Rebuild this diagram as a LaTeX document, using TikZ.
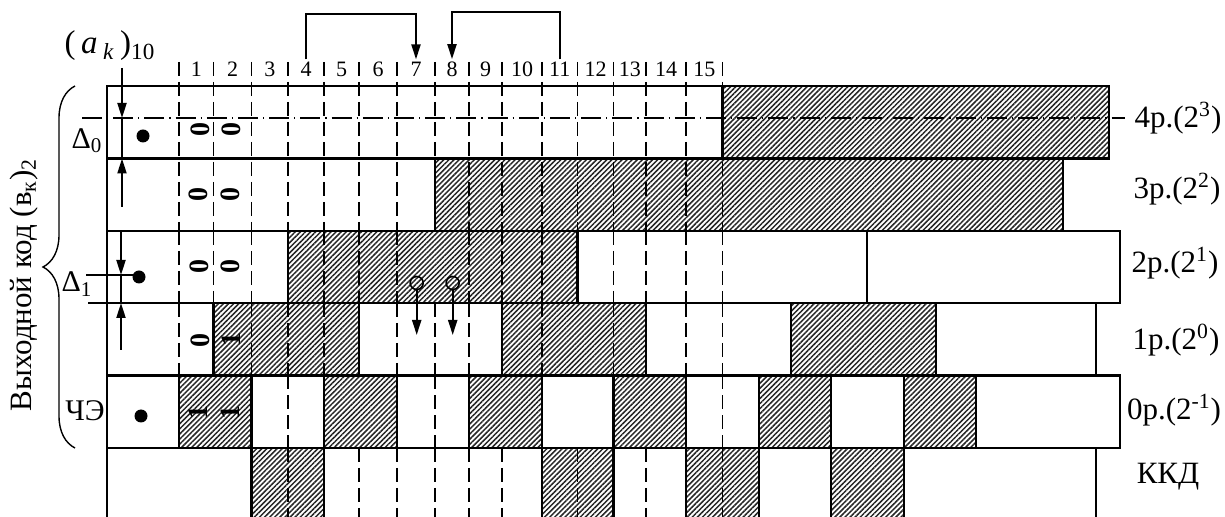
\documentclass[tikz,border=0pt]{standalone}
\usepackage{fontspec}
\setmainfont{Liberation Serif}
\usetikzlibrary{arrows.meta,patterns.meta,decorations.pathreplacing}

\tikzset{
  razm/.style={line width=1.1pt},
  shtrih/.style={line width=0.9pt, dash pattern=on 7pt off 3pt},
  shtrihpunkt/.style={line width=0.8pt, dash pattern=on 10pt off 2.5pt on 0.6pt off 2.5pt},
  shtrihovka/.style={pattern={Lines[angle=45,distance=1.8pt,line width=0.75pt]}, pattern color=black!85},
  strelka/.style={line width=1pt, -{Triangle[length=7.5pt,width=4.5pt]}},
  nomer/.style={font=\fontsize{11}{13}\selectfont, inner sep=1pt},
  razryad/.style={font=\fontsize{15.5}{18}\selectfont, inner sep=1pt},
  metka/.style={font=\fontsize{15}{17}\selectfont, inner sep=1pt},
  bit/.style={font=\fontsize{14}{16}\selectfont\bfseries, rotate=90, inner sep=0pt},
  tochka/.style={fill, circle, inner sep=0pt, minimum size=6.5pt},
  kolco/.style={draw, circle, line width=0.8pt, inner sep=0pt, minimum size=6.5pt}
}

\begin{document}
\begin{tikzpicture}[x=0.5pt,y=-0.5pt]
    \useasboundingbox (0,0) rectangle (1225,517);

    % Заштрихованные интервалы (единицы в разрядах)
    \fill[shtrihovka] (722.5,86) rectangle (1109,158.5);
    \fill[shtrihovka] (435,158.5) rectangle (1063,231);
    \fill[shtrihovka] (288,231) rectangle (577.5,303);
    \foreach \a/\b in {213.5/359, 502/646, 791/936}
        \fill[shtrihovka] (\a,303) rectangle (\b,375.5);
    \foreach \a/\b in {179/251.5, 324/397, 469/542, 613.5/686, 759/831, 904/976}
        \fill[shtrihovka] (\a,375.5) rectangle (\b,448);
    \foreach \a/\b in {251.5/324, 542/613.5, 686/759, 831/904}
        \fill[shtrihovka] (\a,448) rectangle (\b,517);

    % Границы шагов квантования
    \foreach \x in {179,213.5,251.5,288,324,359,397,435,469,502,542,577.5,613.5,646,686,722.5}
        \draw[shtrih] (\x,62) -- (\x,231);
    \foreach \x in {179,213.5,251.5,324,359,397,469,502,542,613.5,646,686,722.5}
        \draw[shtrih] (\x,231) -- (\x,303);
    \foreach \x in {179,251.5,288,324,397,435,469,542,613.5,686,722.5}
        \draw[shtrih] (\x,303) -- (\x,375.5);
    \foreach \x in {288,435,722.5}
        \draw[shtrih] (\x,375.5) -- (\x,448);
    \foreach \x in {288,359,397,435,469,502,577.5,646,722.5}
        \draw[shtrih] (\x,448) -- (\x,517);

    % Ось старшего разряда
    \draw[shtrihpunkt] (82,118) -- (1125,118);

    % Разряды кода
    \draw[razm] (107,86) rectangle (1109,158.5);
    \draw[razm] (722.5,86) -- (722.5,158.5);
    \draw[razm] (107,158.5) rectangle (1063,231);
    \draw[razm] (435,158.5) -- (435,231);
    \draw[razm] (107,231) rectangle (1120,303);
    \foreach \x in {288,577.5,867}
        \draw[razm] (\x,231) -- (\x,303);
    \draw[razm] (107,303) rectangle (1096,375.5);
    \foreach \x in {213.5,359,502,646,791,936}
        \draw[razm] (\x,303) -- (\x,375.5);
    \draw[razm] (107,375.5) rectangle (1120,448);
    \foreach \x in {179,251.5,324,397,469,542,613.5,686,759,831,904,976}
        \draw[razm] (\x,375.5) -- (\x,448);
    % ККД
    \foreach \x in {107,251.5,324,542,613.5,686,759,831,904,1096}
        \draw[razm] (\x,448) -- (\x,517);

    % Номера шагов
    \foreach \n/\x in {1/196.3, 2/232.5, 3/269.8, 4/306, 5/341.5, 6/378, 7/416, 8/452,
                       9/485.5, 10/522, 11/559.8, 12/595.5, 13/629.8, 14/666, 15/704.3}
        \node[nomer] (n\n) at (\x,69) {\n};

    % Переходы 4 -> 7 и 11 -> 8
    \draw[strelka] (n4.north) -- (306,14) -| (n7.north);
    \draw[strelka] (n11.north) -- (559.8,12) -| (n8.north);

    % Размеры Δ0 и Δ1
    \node[font=\fontsize{16.5}{19}\selectfont, inner sep=1pt] (ak) at (110,46)
        {(\,\textit{a}\,\textsubscript{\textit{k}}\,)\textsubscript{10}};
    \draw[strelka] (122,68) -- (122,118);
    \draw[line width=1pt] (122,118) -- (122,158.5);
    \draw[strelka] (122,207) -- (122,158.5);
    \draw[strelka] (121,231) -- (121,275);
    \draw[line width=1pt] (121,275) -- (121,303);
    \draw[strelka] (121,350) -- (121,303);
    \draw[line width=0.9pt] (86,275) -- (136,275);
    \draw[razm] (88,303) -- (107,303);
    \node[metka] (d0) at (87,141) {Δ\textsubscript{0}};
    \node[metka] (d1) at (77,284) {Δ\textsubscript{1}};
    \node[metka] (che) at (85,411) {ЧЭ};

    % Точки отсчёта
    \node[tochka] (t1) at (143,136) {};
    \node[tochka] (t3) at (139,277) {};
    \node[tochka] (t5) at (141,416) {};

    % Значения разрядов в шагах 1 и 2
    \node[bit] (b41) at (200,130) {0};
    \node[bit] (b42) at (231,130) {0};
    \node[bit] (b31) at (198,195) {0};
    \node[bit] (b32) at (230,195) {0};
    \node[bit] (b21) at (199,267) {0};
    \node[bit] (b22) at (230,267) {0};
    \node[bit] (b11) at (200,341) {0};
    \node[bit] (b12) at (231,340) {1};
    \node[bit] (b01) at (198,413) {1};
    \node[bit] (b02) at (230,413) {1};

    % Сбой в шагах 7 и 8
    \node[kolco] (k7) at (416.7,283) {};
    \node[kolco] (k8) at (452.7,283) {};
    \draw[strelka] (k7.south) -- (416.7,335);
    \draw[strelka] (k8.south) -- (452.7,335);

    % Подписи разрядов
    \node[razryad] (p4) at (1178,118) {4р.(2\textsuperscript{3})};
    \node[razryad] (p3) at (1177,189) {3р.(2\textsuperscript{2})};
    \node[razryad] (p2) at (1175,263) {2р.(2\textsuperscript{1})};
    \node[razryad] (p1) at (1176,340) {1р.(2\textsuperscript{0})};
    \node[razryad] (p0) at (1174,410) {0р.(2\textsuperscript{-1})};
    \node[razryad] (pk) at (1168,477) {ККД};

    % Выходной код
    \draw[line width=0.7pt, decorate, decoration={brace, amplitude=16pt}] (75,448) -- (75,86);
    \node[razryad, rotate=90] (vyh) at (24,285) {Выходной код (в\textsubscript{к})\textsubscript{2}};
\end{tikzpicture}
\end{document}
